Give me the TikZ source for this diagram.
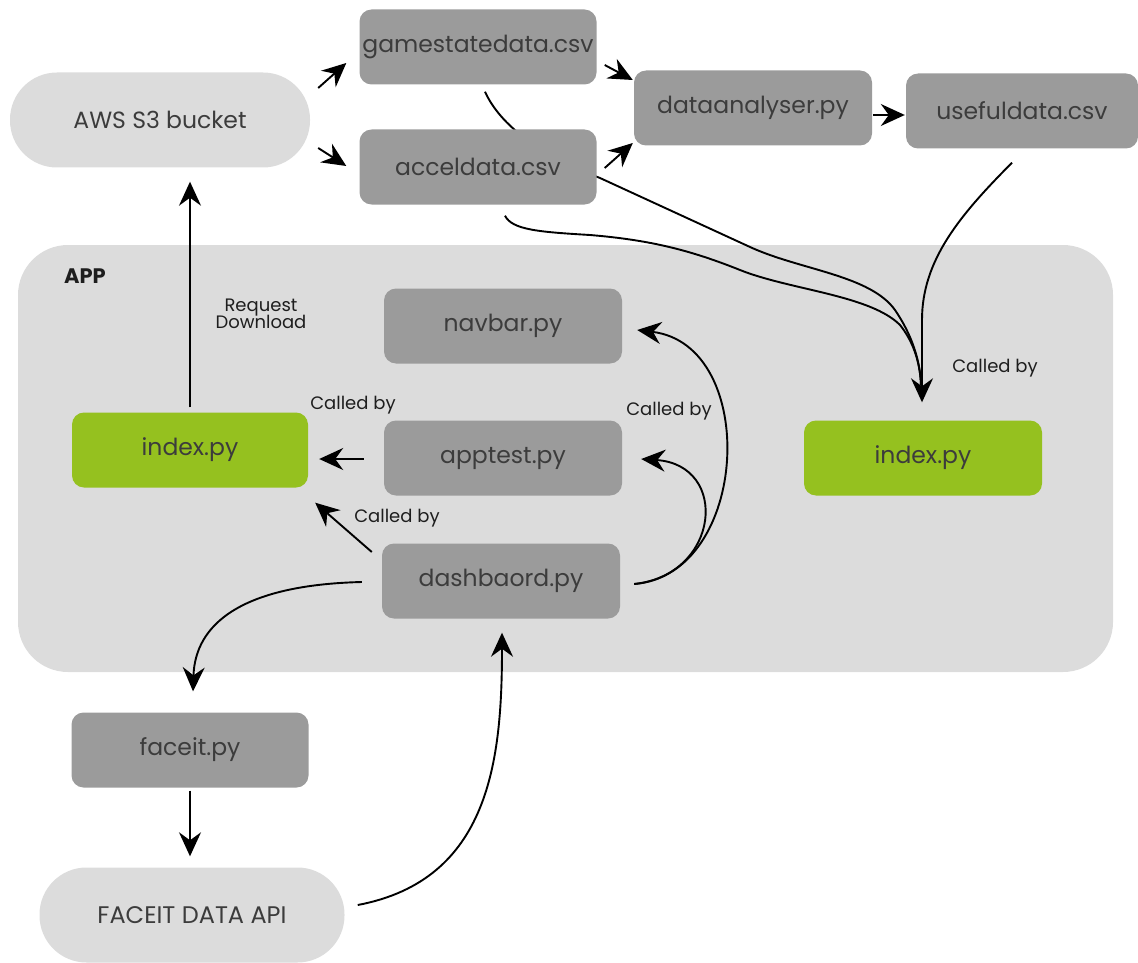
\documentclass[tikz,border=0pt]{standalone}
\usepackage{fontspec}
\setmainfont{Poppins}
\usetikzlibrary{arrows.meta,calc}
\definecolor{boxgray}{HTML}{9B9B9B}
\definecolor{lightgray2}{HTML}{DCDCDC}
\definecolor{appgreen}{HTML}{95C11F}
\definecolor{txt}{HTML}{3C3C3C}
\definecolor{lbl}{HTML}{1E1E1E}
\begin{document}
\begin{tikzpicture}[x=1pt,y=-1pt,
  box/.style={rectangle, rounded corners=12pt, fill=boxgray, minimum width=238pt, minimum height=75pt, inner sep=0pt, text=txt, font=\fontsize{23.5}{27}\selectfont},
  gbox/.style={box, fill=appgreen},
  pill/.style={rectangle, rounded corners=47pt, fill=lightgray2, minimum height=95pt, inner sep=0pt, text=txt, font=\fontsize{23.5}{27}\selectfont},
  arr/.style={-{Stealth[length=24pt,width=22pt,inset=8pt]}, line width=1.9pt, draw=black},
  ln/.style={line width=1.9pt, draw=black},
  lab/.style={text=lbl, font=\fontsize{18}{20}\selectfont, inner sep=0pt, align=center}]
\useasboundingbox (0,0) rectangle (1138,963);

% APP container
\node[rectangle, rounded corners=50pt, fill=lightgray2, minimum width=1095pt, minimum height=427pt, inner sep=0pt] (app) at (565.5,458.5) {};
\node[font=\bfseries\fontsize{21}{24}\selectfont, text=lbl, inner sep=0pt] (applabel) at (85,276) {APP};

% top nodes
\node[pill, minimum width=300pt] (aws) at (160,120) {AWS S3 bucket};
\node[box, minimum width=237pt] (gsd) at (478,47) {gamestatedata.csv};
\coordinate (gsdout) at ($(gsd.south)+(7,7)$);
\coordinate (hub) at (921,385);
% line from gamestatedata, passes behind acceldata
\draw[ln] (gsdout) .. controls (500,125) and (540,155) .. (600,178) -- (750,247) .. controls (800,270) and (870,275) .. (895,310) .. controls (912,335) and (920,360) .. (hub);
\node[box, minimum width=237pt] (acc) at (478,167) {acceldata.csv};
\node[box] (dan) at (753,108) {dataanalyser.py};
\node[box, minimum width=232pt] (use) at (1022,111) {usefuldata.csv};

% inner nodes
\node[box] (nav) at (503,326) {navbar.py};
\node[box] (apt) at (503,458) {apptest.py};
\node[box] (dash) at (501,581) {dashbaord.py};
\node[gbox, minimum width=236pt] (idx1) at (190,450) {index.py};
\node[gbox] (idx2) at (923,458) {index.py};

% bottom nodes
\node[box, minimum width=237pt] (faceit) at (190,750) {faceit.py};
\node[pill, minimum width=305pt, font=\fontsize{24}{28}\selectfont] (api) at (192,915) {FACEIT DATA API};

% short arrows at top
\draw[arr] ($(aws.east)+(8,-32)$) -- ($(gsd.west)+(-13,16)$);
\draw[arr] ($(aws.east)+(8,28)$) -- ($(acc.west)+(-13,-1)$);
\draw[arr] ($(gsd.east)+(8,18)$) -- ($(dan.west)+(-1,-28)$);
\draw[arr] ($(acc.east)+(8,1)$) -- ($(dan.west)+(-1,35)$);
\draw[arr] ($(dan.east)+(1,7)$) -- ($(use.west)+(-1,4)$);

% converging lines to right index
\draw[ln] ($(acc.south)+(27,11)$) .. controls (512,230) and (540,232) .. (590,235) .. controls (650,240) and (690,250) .. (740,270) .. controls (790,290) and (870,295) .. (900,325) .. controls (912,340) and (920,360) .. (hub);
\draw[arr] ($(use.south)+(-10,14)$) .. controls (960,215) and (922,260) .. (922,320) -- ($(idx2.north)+(-1,-18)$);
\node[lab] (lcb4) at (995,368) {Called by};

% index left -> AWS
\draw[arr] ($(idx1.north)+(0,-5)$) -- ($(idx1.north |- aws.south)+(0,14)$);
\node[lab] (lreq) at (261,314) {Request\\[-3pt]Download};

% apptest -> index
\draw[arr] ($(apt.west)+(-20,1)$) -- ($(idx1.east)+(11,9)$);
\node[lab] (lcb1) at (353,405) {Called by};
% dashboard -> index
\draw[arr] ($(dash.west)+(-10,-29)$) -- ($(idx1.south east)+(7,15)$);
\node[lab] (lcb2) at (397,518) {Called by};

% dashboard -> navbar, apptest
\draw[arr] ($(dash.east)+(14,3)$) .. controls (750,575) and (760,345) .. ($(nav.east)+(15,4)$);
\draw[arr] ($(dash.east)+(14,3)$) .. controls (720,575) and (730,465) .. ($(apt.east)+(19,1)$);
\node[lab] (lcb3) at (669,411) {Called by};

% dashboard -> faceit
\draw[arr] ($(dash.west)+(-20,1)$) .. controls (240,585) and (195,625) .. ($(faceit.north)+(3,-21)$);
% faceit -> api
\draw[arr] ($(faceit.south)+(0,3)$) -- ($(faceit.south |- api.north)+(0,-11)$);
% api -> dashboard
\draw[arr] ($(api.east)+(13,-10)$) .. controls (490,880) and (502,760) .. ($(dash.south)+(1,14)$);
\end{tikzpicture}
\end{document}
